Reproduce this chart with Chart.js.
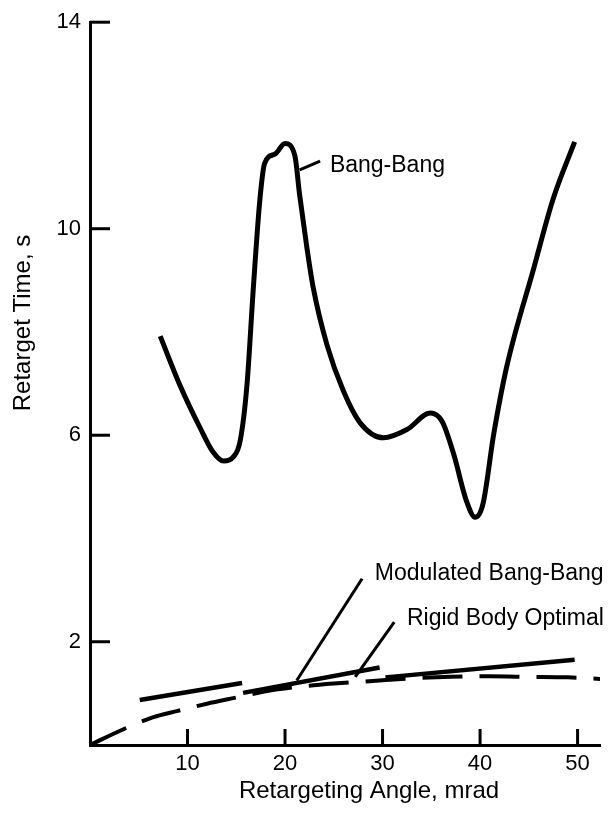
<!DOCTYPE html>
<html>
<head>
<meta charset="utf-8">
<script src="https://cdn.jsdelivr.net/npm/chart.js@4.4.1/dist/chart.umd.min.js"></script>
<style>
    html, body { margin: 0; padding: 0; background: #fff; }
    #wrap { width: 612px; height: 813px; position: relative; }
</style>
</head>
<body>
<div id="wrap"><canvas id="retargetChart"></canvas></div>
<script>
// Values (angle in mrad, time in s)
const bangAngle = [7.2, 9.2, 11.3, 12.6, 13.7, 14.7, 15.4, 16.1, 16.75, 17.4, 17.9, 19.0, 20.0, 21.0, 21.5, 22.2, 22.9, 24.3, 26.0, 27.7, 30.1, 32.5, 34.9, 36.1, 37.3, 38.6, 39.5, 40.3, 41.4, 42.7, 45.5, 47.5, 49.7];
const bangTime  = [7.92, 6.98, 6.14, 5.68, 5.50, 5.58, 5.89, 6.98, 8.85, 10.52, 11.26, 11.45, 11.65, 11.42, 10.65, 9.69, 8.85, 7.75, 6.85, 6.24, 5.95, 6.11, 6.43, 6.27, 5.63, 4.73, 4.41, 4.67, 6.02, 7.30, 9.23, 10.58, 11.68];

// Modulated Bang-Bang is drawn as three separate straight pieces (null = break)
const modAngle = [5.1, 15.6, 15.65, 15.7, 29.7, 30.0, 30.3, 49.7];
const modTime  = [0.87, 1.20, null, 1.01, 1.50, null, 1.31, 1.65];

const rigidAngle = [0, 3.6, 6.5, 9.0, 12.0, 15.0, 18.0, 21.0, 25.0, 29.0, 33.0, 37.0, 41.0, 45.0, 49.0, 52.3];
const rigidTime  = [0, 0.32, 0.54, 0.66, 0.80, 0.92, 1.04, 1.12, 1.19, 1.24, 1.29, 1.32, 1.33, 1.32, 1.31, 1.28];

const xTicks = [10, 20, 30, 40, 50];
const yTicks = [2, 6, 10, 14];

const FONT = '"Liberation Sans", Arial, Helvetica, sans-serif';

const toPoints = (xs, ys) => xs.map((v, i) => ({ x: v, y: ys[i] }));

// Curve labels with leader lines, in data units
const curveLabels = [
    { text: 'Bang-Bang', from: [21.5, 11.14], to: [23.6, 11.31], at: [24.6, 11.1] },
    { text: 'Modulated Bang-Bang', from: [21.2, 1.25], to: [27.9, 3.22], at: [29.2, 3.19] },
    { text: 'Rigid Body Optimal', from: [27.2, 1.32], to: [31.2, 2.38], at: [32.5, 2.32] }
];

const overlay = {
    id: 'overlay',
    afterDraw(chart) {
        const { ctx, scales: { x, y }, chartArea } = chart;
        ctx.save();
        ctx.strokeStyle = '#000';
        ctx.fillStyle = '#000';
        ctx.lineCap = 'butt';

        // Tick marks pointing into the plot
        ctx.lineWidth = 3;
        yTicks.forEach(v => {
            const py = y.getPixelForValue(v);
            ctx.beginPath();
            ctx.moveTo(chartArea.left, py);
            ctx.lineTo(chartArea.left + 20, py);
            ctx.stroke();
        });
        xTicks.forEach(v => {
            const px = x.getPixelForValue(v);
            ctx.beginPath();
            ctx.moveTo(px, chartArea.bottom);
            ctx.lineTo(px, chartArea.bottom - 16);
            ctx.stroke();
        });

        // Leader lines and curve names
        ctx.lineWidth = 3;
        ctx.font = '23px ' + FONT;
        ctx.textBaseline = 'alphabetic';
        ctx.textAlign = 'left';
        curveLabels.forEach(l => {
            ctx.beginPath();
            ctx.moveTo(x.getPixelForValue(l.from[0]), y.getPixelForValue(l.from[1]));
            ctx.lineTo(x.getPixelForValue(l.to[0]), y.getPixelForValue(l.to[1]));
            ctx.stroke();
            ctx.fillText(l.text, x.getPixelForValue(l.at[0]), y.getPixelForValue(l.at[1]));
        });

        // Axis titles
        ctx.font = '24px ' + FONT;
        ctx.textAlign = 'center';
        ctx.textBaseline = 'middle';
        ctx.fillText('Retargeting Angle, mrad', 369, 791);
        ctx.translate(23, 323);
        ctx.rotate(-Math.PI / 2);
        ctx.fillText('Retarget Time, s', 0, 0);
        ctx.restore();
    }
};

document.addEventListener('DOMContentLoaded', () => {
    const ctx = document.getElementById('retargetChart').getContext('2d');

    window.retargetChart = new Chart(ctx, {
        type: 'line',
        data: {
            datasets: [
                {
                    label: 'Bang-Bang',
                    data: toPoints(bangAngle, bangTime),
                    borderColor: '#000',
                    borderWidth: 5,
                    cubicInterpolationMode: 'monotone',
                    pointRadius: 0
                },
                {
                    label: 'Modulated Bang-Bang',
                    data: toPoints(modAngle, modTime),
                    borderColor: '#000',
                    borderWidth: 4.5,
                    tension: 0,
                    spanGaps: false,
                    pointRadius: 0
                },
                {
                    label: 'Rigid Body Optimal',
                    data: toPoints(rigidAngle, rigidTime),
                    borderColor: '#000',
                    borderWidth: 4,
                    borderDash: [40, 17],
                    cubicInterpolationMode: 'monotone',
                    pointRadius: 0
                }
            ]
        },
        options: {
            responsive: true,
            maintainAspectRatio: false,
            animation: false,
            layout: { padding: { top: 20, right: 12, left: 0, bottom: 0 } },
            plugins: {
                legend: { display: false },
                tooltip: { enabled: false }
            },
            scales: {
                x: {
                    type: 'linear',
                    min: 0,
                    max: 52.3,
                    afterFit: s => { s.height = 68; },
                    afterBuildTicks: s => { s.ticks = xTicks.map(v => ({ value: v })); },
                    grid: { display: false, drawTicks: false },
                    border: { display: true, color: '#000', width: 3 },
                    ticks: {
                        color: '#000',
                        padding: 6,
                        maxRotation: 0,
                        font: { family: FONT, size: 22 }
                    }
                },
                y: {
                    type: 'linear',
                    min: 0,
                    max: 14,
                    afterFit: s => { s.width = 90; },
                    afterBuildTicks: s => { s.ticks = yTicks.map(v => ({ value: v })); },
                    grid: { display: false, drawTicks: false },
                    border: { display: true, color: '#000', width: 3 },
                    ticks: {
                        color: '#000',
                        padding: 9,
                        font: { family: FONT, size: 22 }
                    }
                }
            }
        },
        plugins: [overlay]
    });
});
</script>
</body>
</html>
